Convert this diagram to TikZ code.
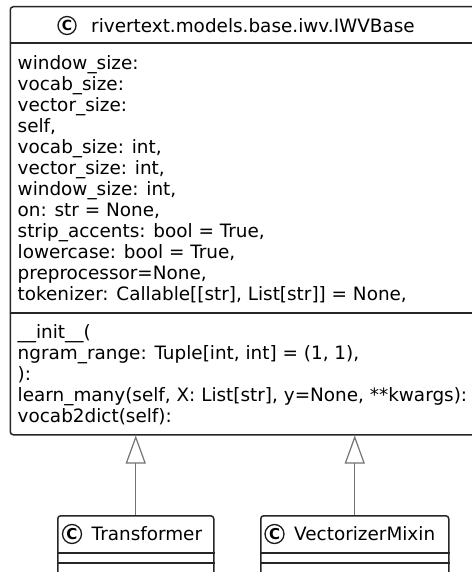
\documentclass[tikz,border=0pt]{standalone}
\usepackage{fontspec}
\setmainfont{DejaVu Sans}
\usetikzlibrary{arrows.meta}

\newcommand{\umlfont}{\fontsize{18.4}{21}\selectfont}

\begin{document}
\begin{tikzpicture}[x=1pt, y=-1pt,
  box/.style={draw=black!85, line width=1.5pt, rounded corners=3pt, fill=white, anchor=north west, inner sep=0pt},
  spot/.style={draw=black!90, circle, line width=1.3pt, minimum size=18pt, inner sep=0pt, font=\bfseries\fontsize{14}{14}\selectfont},
  bigspot/.style={spot, minimum size=19pt, font=\bfseries\fontsize{15}{15}\selectfont},
  txt/.style={anchor=base west, inner sep=0pt, font=\umlfont},
  inh/.style={draw=black!55, line width=1.2pt, -{Triangle[open, length=28pt, width=20pt]}}]
\useasboundingbox (0,0) rectangle (471,572);

% base class
\node[box, minimum width=470pt, minimum height=428pt] (iwv) at (9.5,6) {};
\draw[line width=1.5pt, black!85] ([yshift=-37pt]iwv.north west) -- ([yshift=-37pt]iwv.north east);
\draw[line width=1.5pt, black!85] ([yshift=-307pt]iwv.north west) -- ([yshift=-307pt]iwv.north east);
\node[spot] (iwvspot) at (67,25.5) {C};
\node[txt] (iwvname) at (91,32.5) {rivertext.models.base.iwv.IWVBase};

\foreach \s [count=\i] in {window\_size:, vocab\_size:, vector\_size:, {self,},
    {vocab\_size: int,}, {vector\_size: int,}, {window\_size: int,}, {on: str = None,},
    {strip\_accents: bool = True,}, {lowercase: bool = True,}, {preprocessor=None,},
    {tokenizer: Callable[[str], List[str]] = None,}}
  \node[txt] (attr\i) at (17.5, 48.25+21*\i) {\s};

\foreach \s [count=\i] in {{\_\_init\_\_(}, {ngram\_range: Tuple[int, int] = (1, 1),}, {):},
    {learn\_many(self, X: List[str], y=None, **kwargs):}, {vocab2dict(self):}}
  \node[txt] (meth\i) at (17.5, 317.25+21*\i) {\s};

% subclasses
\node[box, minimum width=156pt, minimum height=62pt] (trans) at (57,515) {};
\draw[line width=1.5pt, black!85] ([yshift=-38pt]trans.north west) -- ([yshift=-38pt]trans.north east);
\draw[line width=1.5pt, black!85] ([yshift=-48pt]trans.north west) -- ([yshift=-48pt]trans.north east);
\node[bigspot] (transspot) at (72,534) {C};
\node[txt] (transname) at (91.5,540.75) {Transformer};

\node[box, minimum width=188pt, minimum height=62pt] (vmix) at (260,515) {};
\draw[line width=1.5pt, black!85] ([yshift=-38pt]vmix.north west) -- ([yshift=-38pt]vmix.north east);
\draw[line width=1.5pt, black!85] ([yshift=-48pt]vmix.north west) -- ([yshift=-48pt]vmix.north east);
\node[bigspot] (vmixspot) at (274.5,534) {C};
\node[txt] (vmixname) at (294,540.75) {VectorizerMixin};

\draw[inh] (trans.north) -- (trans.north |- iwv.south);
\draw[inh] (vmix.north) -- (vmix.north |- iwv.south);

\end{tikzpicture}
\end{document}
